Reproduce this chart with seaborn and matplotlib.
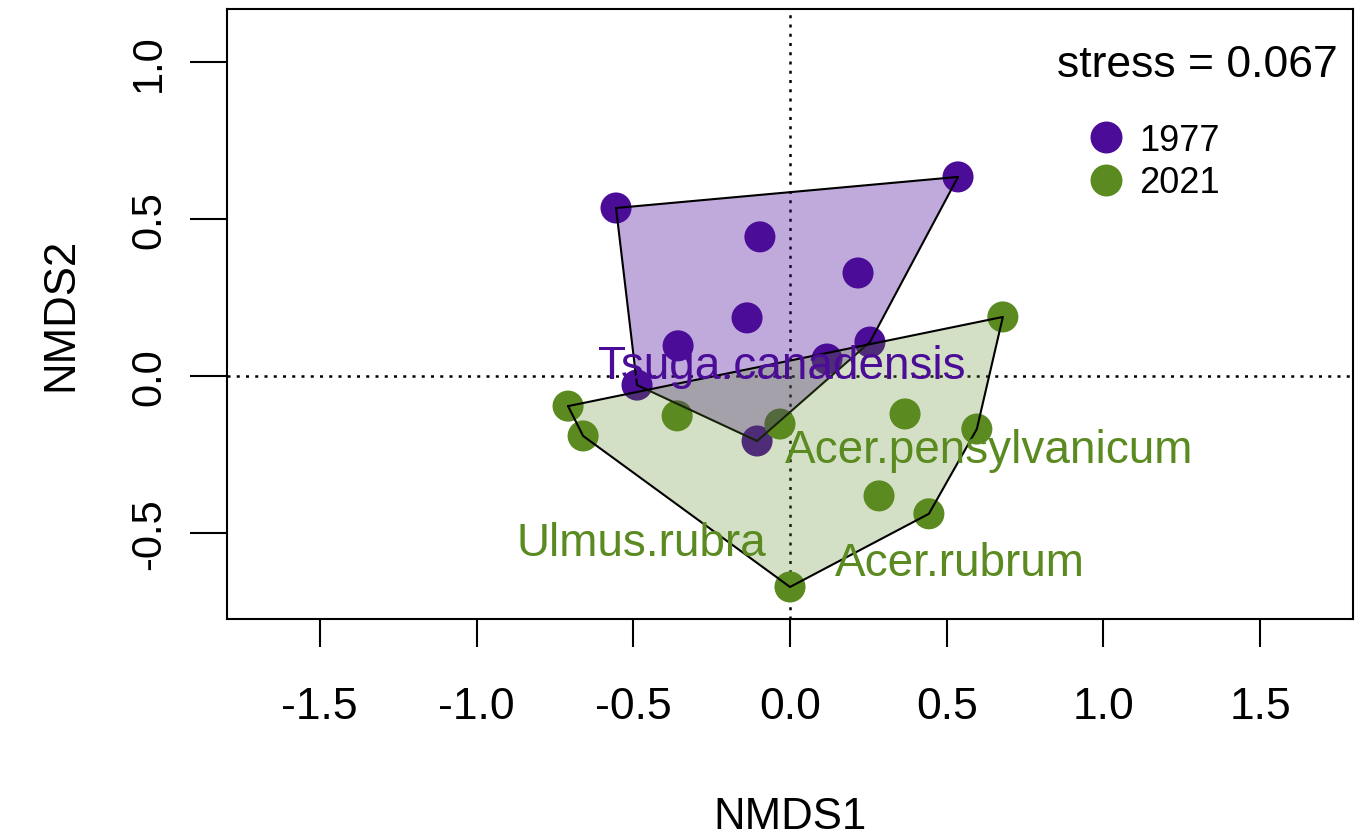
import numpy as np
import pandas as pd
import matplotlib
matplotlib.use("Agg")
import matplotlib.pyplot as plt
import seaborn as sns
from matplotlib.lines import Line2D

# site scores
years = ["1977", "2021"]
nmds1_1977 = [-0.555, 0.536, -0.096, 0.217, -0.137, -0.357, 0.255, 0.118, -0.488, -0.105]
nmds2_1977 = [0.535, 0.634, 0.443, 0.328, 0.185, 0.096, 0.108, 0.054, -0.029, -0.207]
nmds1_2021 = [0.679, -0.708, -0.660, -0.360, -0.032, 0.367, 0.596, 0.284, 0.443, 0.000]
nmds2_2021 = [0.188, -0.096, -0.191, -0.127, -0.153, -0.121, -0.169, -0.382, -0.439, -0.672]

# species scores (labels only)
species = ["Tsuga.canadensis", "Acer.pensylvanicum", "Ulmus.rubra", "Acer.rubrum"]
species_x = [-0.025, 0.635, -0.475, 0.542]
species_y = [0.032, -0.236, -0.532, -0.596]
species_year = ["1977", "2021", "2021", "2021"]

stress = 0.067
colors = {"1977": "#4B0C98", "2021": "#5A8A20"}
fill_alpha = {"1977": 0.35, "2021": 0.26}

df = pd.DataFrame({
    "NMDS1": nmds1_1977 + nmds1_2021,
    "NMDS2": nmds2_1977 + nmds2_2021,
    "year": ["1977"] * len(nmds1_1977) + ["2021"] * len(nmds1_2021),
})


def hull(px, py):
    # monotone chain convex hull
    pts = sorted(zip(px, py))
    def cross(o, a, b):
        return (a[0] - o[0]) * (b[1] - o[1]) - (a[1] - o[1]) * (b[0] - o[0])
    lower, upper = [], []
    for p in pts:
        while len(lower) >= 2 and cross(lower[-2], lower[-1], p) <= 0:
            lower.pop()
        lower.append(p)
    for p in reversed(pts):
        while len(upper) >= 2 and cross(upper[-2], upper[-1], p) <= 0:
            upper.pop()
        upper.append(p)
    h = lower[:-1] + upper[:-1]
    h.append(h[0])
    return [p[0] for p in h], [p[1] for p in h]


sns.set_style("white")
plt.rcParams["font.family"] = ["Liberation Sans", "DejaVu Sans"]
plt.rcParams["axes.unicode_minus"] = False
for k in ["text.color", "axes.labelcolor", "xtick.color", "ytick.color"]:
    plt.rcParams[k] = "black"

fig = plt.figure(figsize=(13.57, 8.37), dpi=100)
ax = fig.add_axes([227 / 1357, 1 - 620 / 837, 1126 / 1357, 610.4 / 837])

sns.scatterplot(data=df, x="NMDS1", y="NMDS2", hue="year", palette=colors,
                s=500, linewidth=0, legend=False, ax=ax, zorder=2)

# hulls on top of the points, like ordihull
for i, yr in enumerate(years):
    sub = df[df["year"] == yr]
    hx, hy = hull(sub["NMDS1"], sub["NMDS2"])
    ax.fill(hx, hy, facecolor=colors[yr], alpha=fill_alpha[yr], edgecolor="none", zorder=3 + i)
    ax.plot(hx, hy, color="black", lw=1.5, zorder=3 + i)

ax.axhline(0, color="black", ls=(0, (1.2, 2.5)), lw=1.8, zorder=1)
ax.axvline(0, color="black", ls=(0, (1.2, 2.5)), lw=1.8, zorder=1)

for name, sx, sy, yr in zip(species, species_x, species_y, species_year):
    ax.text(sx, sy, name, color=colors[yr], fontsize=33, ha="center", va="center", zorder=6)

ax.text(0.9867, 0.908, f"stress = {stress}", transform=ax.transAxes,
        fontsize=32, ha="right", va="center", zorder=6)

handles = [Line2D([], [], marker="o", ls="none", color=colors[yr], markersize=23, markeredgewidth=0)
           for yr in years]
ax.legend(handles, years, loc="upper left", bbox_to_anchor=(0.7647, 0.8126), frameon=False,
          fontsize=26, handlelength=1.0, handletextpad=0.41, labelspacing=0.2,
          borderpad=0, borderaxespad=0)

ax.set_xlim(-1.796, 1.796)
ax.set_ylim(-0.774, 1.170)
ax.set_aspect("auto")

xt = [-1.5, -1.0, -0.5, 0.0, 0.5, 1.0, 1.5]
yt = [-0.5, 0.0, 0.5, 1.0]
ax.set_xticks(xt)
ax.set_xticklabels([f"{v:.1f}" for v in xt])
ax.set_yticks(yt)
ax.set_yticklabels([f"{v:.1f}" for v in yt], rotation=90, va="center")

ax.tick_params(axis="both", direction="out", width=1.5, bottom=True, left=True)
ax.tick_params(axis="x", length=20, pad=28, labelsize=32)
ax.tick_params(axis="y", length=27, pad=14.5, labelsize=30)
for s in ax.spines.values():
    s.set_linewidth(1.5)
    s.set_color("black")

ax.set_xlabel("NMDS1", fontsize=31.5)
ax.set_ylabel("NMDS2", fontsize=31.5)
ax.xaxis.set_label_coords(0.5, -0.323)
ax.xaxis.label.set_va("center")
ax.yaxis.set_label_coords(-0.1475, 0.5)
ax.yaxis.label.set_va("center")

fig.savefig("out.png", dpi=100, facecolor="white")
